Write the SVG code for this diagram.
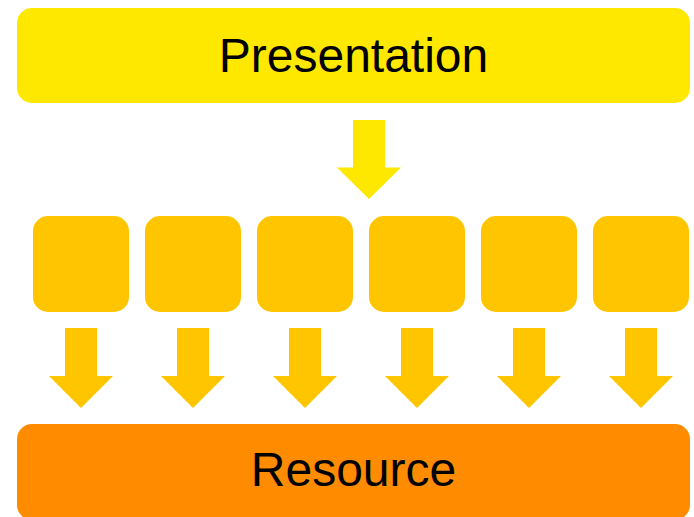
<svg xmlns="http://www.w3.org/2000/svg" width="694" height="517" viewBox="0 0 694 517">
  <style>
    .label { font-family: "Liberation Sans", Arial, Helvetica, sans-serif; font-size: 48px; fill: #000; text-anchor: middle; }
    .top { fill: #FFE800; }
    .mid { fill: #FFC600; }
    .bottom { fill: #FF8C00; }
  </style>
  <defs>
    <path id="arrow-down" d="M-16,0 H16 V48 H32 L0,80 L-32,48 H-16 Z"/>
  </defs>
  <rect width="694" height="517" fill="#FFFFFF"/>

  <g id="presentation">
    <rect class="top" x="17" y="8" width="673" height="95" rx="15" ry="15"/>
    <text class="label" x="353.5" y="72">Presentation</text>
  </g>

  <g id="component-1"><rect class="mid" x="33" y="216" width="96" height="96" rx="15" ry="15"/></g>
  <g id="component-2"><rect class="mid" x="145" y="216" width="96" height="96" rx="15" ry="15"/></g>
  <g id="component-3"><rect class="mid" x="257" y="216" width="96" height="96" rx="15" ry="15"/></g>
  <g id="component-4"><rect class="mid" x="369" y="216" width="96" height="96" rx="15" ry="15"/></g>
  <g id="component-5"><rect class="mid" x="481" y="216" width="96" height="96" rx="15" ry="15"/></g>
  <g id="component-6"><rect class="mid" x="593" y="216" width="96" height="96" rx="15" ry="15"/></g>

  <g id="resource">
    <rect class="bottom" x="17" y="424" width="673" height="96" rx="15" ry="15"/>
    <text class="label" x="353.5" y="486">Resource</text>
  </g>

  <g id="connectors">
    <use href="#arrow-down" class="top" transform="translate(369,120) scale(1,0.988)"/>
    <use href="#arrow-down" class="mid" transform="translate(81,328)"/>
    <use href="#arrow-down" class="mid" transform="translate(193,328)"/>
    <use href="#arrow-down" class="mid" transform="translate(305,328)"/>
    <use href="#arrow-down" class="mid" transform="translate(417,328)"/>
    <use href="#arrow-down" class="mid" transform="translate(529,328)"/>
    <use href="#arrow-down" class="mid" transform="translate(641,328)"/>
  </g>
</svg>
